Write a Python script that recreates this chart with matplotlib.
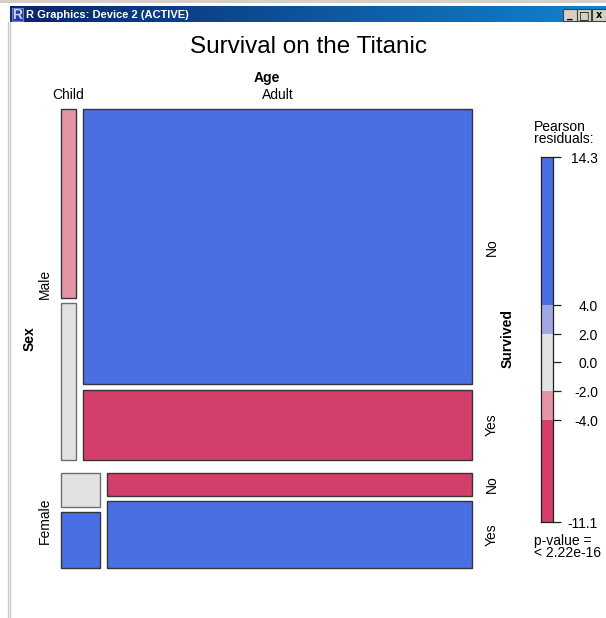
import numpy as np
import matplotlib
matplotlib.use('Agg')
import matplotlib.pyplot as plt
from matplotlib.patches import Rectangle
from matplotlib.transforms import blended_transform_factory, offset_copy

plt.rcParams['font.family'] = ['Liberation Sans', 'DejaVu Sans']

# Titanic, collapsed over Class: counts[sex][age][survived]
sexes = ["Male", "Female"]
ages = ["Child", "Adult"]
survived = ["No", "Yes"]
counts = np.array([[[35, 29], [1329, 338]],
                   [[17, 28], [109, 316]]])

legend_ticks = [14.3, 4.0, 2.0, 0.0, -2.0, -4.0, -11.1]
legend_breaks = [-11.1, -4.0, -2.0, 2.0, 4.0, 14.3]
legend_cols = ["#D33F6A", "#E495A5", "#E2E2E2", "#A0A8E3", "#4A6FE3"]
p_text = "p-value =\n< 2.22e-16"

# pearson residuals under mutual independence
n = counts.sum()
p_sex = counts.sum(axis=(1, 2)) / n
p_age = counts.sum(axis=(0, 2)) / n
p_surv = counts.sum(axis=(0, 1)) / n
expected = n * p_sex[:, None, None] * p_age[None, :, None] * p_surv[None, None, :]
resid = (counts - expected) / np.sqrt(expected)

def shade(r):
    for i in range(len(legend_cols)):
        if r <= legend_breaks[i + 1]:
            return legend_cols[i]
    return legend_cols[-1]

W, H = 606, 618
fig = plt.figure(figsize=(W / 100, H / 100), dpi=100)
fig.patch.set_facecolor('white')
ax = fig.add_axes([0, 0, 1, 1])
ax.set_xlim(0, W)
ax.set_ylim(H, 0)
ax.axis('off')

# --- window chrome ---
ax.add_patch(Rectangle((0, 0), W, 3, color='#D4D0C8', lw=0))
grad = np.linspace(0, 1, 256)[None, :, None]
c0 = np.array([10, 36, 106]) / 255
c1 = np.array([16, 132, 208]) / 255
ax.imshow(c0 + (c1 - c0) * grad, extent=(10, W, 22, 6), aspect='auto', zorder=1)
ax.set_xlim(0, W)
ax.set_ylim(H, 0)
ax.add_patch(Rectangle((12, 8), 11, 13, facecolor='#2040A0', edgecolor='#7080C0', lw=0.8, zorder=2))
ax.text(17.5, 15, "R", color='#C8D0F0', fontsize=10, fontweight='bold', ha='center', va='center', zorder=3)
ax.text(26, 14.5, "R Graphics: Device 2 (ACTIVE)", color='white', fontsize=8,
        fontweight='bold', ha='left', va='center', zorder=3)
for bx, sym in zip([563, 577, 592], ["_", "\u25a1", "x"]):
    ax.add_patch(Rectangle((bx, 9), 14, 12, facecolor='#D4D0C8', edgecolor='#404040', lw=0.8, zorder=2))
    ax.text(bx + 7, 15, sym, fontsize=8 if sym != "x" else 7, fontweight='bold',
            ha='center', va='center', zorder=3, family='DejaVu Sans')
ax.plot([7.5, 7.5], [22, H], color='#C8C8C8', lw=1)
ax.plot([10, 10], [22, H], color='#C8C8C8', lw=1)

# --- mosaic ---
left, right, top, bottom = 61, 472, 109, 568
gap_sex, gap_age, gap_surv = 13, 7.5, 5.5
sex_tot = counts.sum(axis=(1, 2))
avail_h = (bottom - top) - gap_sex * (len(sexes) - 1)
y = top
col_spans = {}
for i, sex in enumerate(sexes):
    h = avail_h * sex_tot[i] / n
    age_tot = counts[i].sum(axis=1)
    avail_w = (right - left) - gap_age * (len(ages) - 1)
    x = left
    for j, age in enumerate(ages):
        w = avail_w * age_tot[j] / sex_tot[i]
        col_spans[(i, j)] = (x, x + w)
        avail_s = h - gap_surv * (len(survived) - 1)
        yy = y
        for k, s in enumerate(survived):
            hh = avail_s * counts[i, j, k] / age_tot[j]
            fc = shade(resid[i, j, k])
            ec = '#6E6E6E' if fc == "#E2E2E2" else '#353535'
            ax.add_patch(Rectangle((x, yy), w, hh, facecolor=fc, edgecolor=ec, lw=1, zorder=2))
            if j == len(ages) - 1:
                ax.text(492, yy + hh / 2, s, rotation=90, fontsize=10, ha='center', va='center')
            yy += hh + gap_surv
        x += w + gap_age
    ax.text(45, y + h / 2, sex, rotation=90, fontsize=10, ha='center', va='center')
    y += h + gap_sex

for j, age in enumerate(ages):
    x0, x1 = col_spans[(0, j)]
    ax.text((x0 + x1) / 2, 95, age, fontsize=10, ha='center', va='center')

ax.text((left + right) / 2, 78, "Age", fontsize=10, fontweight='bold', ha='center', va='center')
ax.text(30, (top + bottom) / 2, "Sex", fontsize=10, fontweight='bold', rotation=90, ha='center', va='center')
ax.text(508, (top + bottom) / 2, "Survived", fontsize=10, fontweight='bold', rotation=90, ha='center', va='center')
ax.text(309, 53, "Survival on the Titanic", fontsize=17.5, ha='center', va='baseline')

# --- legend ---
lx0, lx1, ly0, ly1 = 541, 553, 157, 522
lax = fig.add_axes([lx0 / W, 1 - ly1 / H, (lx1 - lx0) / W, (ly1 - ly0) / H])
lax.set_ylim(legend_breaks[0], legend_breaks[-1])
lax.set_xlim(0, 1)
for b0, b1, c in zip(legend_breaks[:-1], legend_breaks[1:], legend_cols):
    lax.bar(0.5, b1 - b0, bottom=b0, width=1, color=c, lw=0)
for sp in lax.spines.values():
    sp.set_color('#202020')
    sp.set_linewidth(0.9)
lax.set_xticks([])
lax.set_yticks(legend_ticks)
lax.tick_params(axis='y', left=False, right=True, labelleft=False, labelright=False,
                length=6, width=0.9, direction='out', color='#202020')
tr = offset_copy(blended_transform_factory(lax.transAxes, lax.transData), fig=fig,
                 x=0, y=-2, units='dots')
for t in legend_ticks:
    lax.text((598 - lx0) / (lx1 - lx0), t, "%.1f" % t, transform=tr, fontsize=10,
             ha='right', va='center')
ax.text(534, 133, "Pearson\nresiduals:", fontsize=10, ha='left', va='center', linespacing=0.85)
ax.text(534, 547, p_text, fontsize=10, ha='left', va='center', linespacing=0.85)

fig.savefig("out.png", dpi=100)
